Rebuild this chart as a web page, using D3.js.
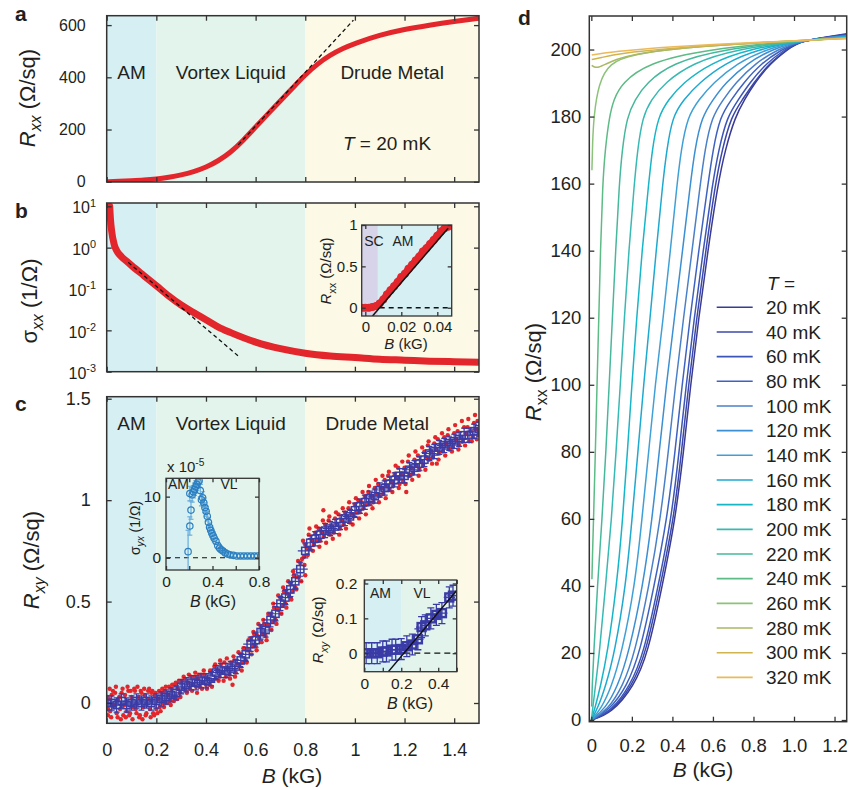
<!DOCTYPE html>
<html>
<head>
<meta charset="utf-8">
<script src="https://cdn.jsdelivr.net/npm/d3@7"></script>
<style>
  body { margin: 0; background: #fff; }
  text { font-family: "Liberation Sans", Arial, Helvetica, sans-serif; fill: #231f20; }
</style>
</head>
<body>
<script>
// ---------- data ----------
const regionEdges = [0, 0.2, 0.8, 1.5];
const regionNames = ["AM", "Vortex Liquid", "Drude Metal"];

// panel a: Rxx vs B at 20 mK
const rxxB = [0, 0.05, 0.1, 0.15, 0.2, 0.25, 0.3, 0.35, 0.4, 0.45, 0.5, 0.55, 0.6, 0.65, 0.7, 0.75, 0.8, 0.85, 0.9, 0.95, 1.0, 1.1, 1.2, 1.3, 1.4, 1.5];
const rxxR = [0, 2, 4, 6, 10, 17, 26, 38, 55, 80, 113, 158, 210, 260, 310, 360, 410, 452, 485, 510, 530, 562, 584, 600, 614, 626];
const rxxFitB = [0.53, 0.994];
const rxxFitR = [141, 619];

// panel b: sigma_xx (log)
const sigB = [0.012, 0.015, 0.02, 0.03, 0.04, 0.06, 0.08, 0.1, 0.15, 0.2, 0.25, 0.3, 0.35, 0.4, 0.45, 0.5, 0.6, 0.7, 0.8, 0.9, 1.0, 1.1, 1.2, 1.3, 1.4, 1.5];
const sigV = [10, 5, 2.5, 1.2, 0.85, 0.6, 0.47, 0.37, 0.21, 0.12, 0.068, 0.041, 0.027, 0.018, 0.012, 0.0088, 0.0052, 0.0036, 0.0028, 0.0024, 0.0022, 0.002, 0.0019, 0.0018, 0.00175, 0.0017];
const sigFitB = [0.087, 0.53];
const sigFitV = [0.44, 0.0024];
const sigTicks = [10, 1, 0.1, 0.01, 0.001];
const sigExp = ["1", "0", "-1", "-2", "-3"];

// panel b inset: low-field Rxx
const lowB = [-0.002, 0, 0.002, 0.004, 0.006, 0.008, 0.01, 0.012, 0.014, 0.016, 0.018, 0.02, 0.022, 0.024, 0.026, 0.028, 0.03, 0.032, 0.034, 0.036, 0.038, 0.04, 0.042, 0.044, 0.045, 0.046];
const lowR = [0, 0, 0, 0.01, 0.02, 0.05, 0.1, 0.16, 0.21, 0.26, 0.31, 0.37, 0.41, 0.47, 0.52, 0.57, 0.62, 0.68, 0.72, 0.77, 0.82, 0.87, 0.92, 0.96, 0.99, 0.98];
const lowFitB = [0.004, 0.046];
const lowFitR = [-0.1, 0.96];
const scEdge = 0.007;

// panel c: Rxy raw points and binned squares
const rxyB = [0, 0.02, 0.04, 0.06, 0.08, 0.1, 0.12, 0.14, 0.16, 0.18, 0.2, 0.22, 0.24, 0.26, 0.28, 0.3, 0.32, 0.34, 0.36, 0.38, 0.4, 0.42, 0.44, 0.46, 0.48, 0.5, 0.52, 0.54, 0.56, 0.58, 0.6, 0.62, 0.64, 0.66, 0.68, 0.7, 0.72, 0.74, 0.76, 0.78, 0.8, 0.82, 0.84, 0.86, 0.88, 0.9, 0.92, 0.94, 0.96, 0.98, 1.0, 1.02, 1.04, 1.06, 1.08, 1.1, 1.12, 1.14, 1.16, 1.18, 1.2, 1.22, 1.24, 1.26, 1.28, 1.3, 1.32, 1.34, 1.36, 1.38, 1.4, 1.42, 1.44, 1.46, 1.48, 1.5];
const rxyR = [0, 0, -0.01, 0.01, -0.01, 0, 0.01, 0, 0.01, 0, 0.01, 0.02, 0.03, 0.04, 0.05, 0.08, 0.09, 0.1, 0.1, 0.11, 0.11, 0.12, 0.15, 0.16, 0.16, 0.17, 0.18, 0.21, 0.24, 0.29, 0.31, 0.35, 0.36, 0.41, 0.44, 0.49, 0.52, 0.56, 0.6, 0.66, 0.75, 0.79, 0.81, 0.83, 0.85, 0.86, 0.87, 0.89, 0.91, 0.92, 0.95, 0.97, 0.99, 1.01, 1.02, 1.05, 1.06, 1.08, 1.1, 1.12, 1.12, 1.15, 1.16, 1.18, 1.2, 1.23, 1.24, 1.26, 1.27, 1.28, 1.29, 1.3, 1.32, 1.32, 1.34, 1.35];
const rxyErrB = 0.03, rxyErrR = 0.035;
const rxyRaw = [
  [0.003,0.03],[0.006,-0.03],[0.01,0.02],[0.014,-0.04],[0.02,0.04],[0.027,-0.01],[0.034,0.05],[0.04,-0.05],[0.047,0.02],
  [0.054,-0.03],[0.06,0.05],[0.067,-0.06],[0.074,0.04],[0.08,-0.04],[0.087,0.06],[0.094,-0.05],[0.1,0.03],[0.107,-0.02],
  [0.114,0.06],[0.12,-0.05],[0.127,0.03],[0.134,-0.06],[0.14,0.05],[0.147,-0.02],[0.154,0.04],[0.16,-0.05],[0.167,0.06],
  [0.174,-0.03],[0.18,0.05],[0.187,-0.05],[0.194,0.04],[0.2,-0.03],[0.207,0.02],[0.214,-0.02],[0.22,0.05],[0.227,0.0],
  [0.234,0.06],[0.24,0.0],[0.247,0.04],[0.254,0.01],[0.26,0.07],[0.267,0.03],[0.274,0.09],[0.28,0.03],[0.287,0.07],
  [0.294,0.05],[0.3,0.11],[0.307,0.07],[0.314,0.12],[0.32,0.06],[0.327,0.1],[0.334,0.07],[0.34,0.13],[0.347,0.09],
  [0.354,0.13],[0.36,0.08],[0.367,0.12],[0.374,0.08],[0.38,0.14],[0.387,0.1],[0.394,0.14],[0.4,0.09],[0.407,0.12],
  [0.414,0.09],[0.42,0.15],[0.427,0.11],[0.434,0.18],[0.44,0.12],[0.447,0.16],[0.454,0.13],[0.46,0.19],[0.467,0.15],
  [0.474,0.2],[0.48,0.13],[0.487,0.17],[0.494,0.14],[0.5,0.2],[0.507,0.09],[0.514,0.21],[0.52,0.15],[0.527,0.19],
  [0.534,0.18],[0.54,0.24],[0.547,0.2],[0.554,0.27],[0.56,0.21],[0.567,0.26],[0.574,0.26],[0.58,0.32],[0.587,0.28],
  [0.594,0.34],[0.6,0.28],[0.607,0.33],[0.614,0.32],[0.62,0.38],[0.627,0.34],[0.634,0.39],[0.64,0.33],[0.647,0.38],
  [0.654,0.38],[0.66,0.44],[0.667,0.4],[0.674,0.47],[0.68,0.41],[0.687,0.46],[0.694,0.46],[0.7,0.52],[0.707,0.48],
  [0.714,0.55],[0.72,0.49],[0.727,0.54],[0.734,0.53],[0.74,0.59],[0.747,0.55],[0.754,0.63],[0.76,0.57],[0.767,0.62],
  [0.774,0.62],[0.78,0.69],[0.787,0.71],[0.794,0.72],[0.8,0.78],[0.807,0.76],[0.814,0.83],[0.82,0.76],[0.827,0.8],
  [0.834,0.78],[0.84,0.84],[0.847,0.8],[0.854,0.86],[0.86,0.8],[0.867,0.84],[0.874,0.82],[0.88,0.88],[0.887,0.84],
  [0.894,0.9],[0.9,0.83],[0.907,0.87],[0.914,0.84],[0.92,0.91],[0.927,0.88],[0.934,0.93],[0.94,0.86],[0.947,0.9],
  [0.954,0.88],[0.96,0.94],[0.967,0.92],[0.974,0.96],[0.98,0.89],[0.987,0.93],[0.994,0.92],[1.0,0.98],[1.007,0.94],
  [1.014,1.0],[1.02,0.94],[1.027,0.99],[1.034,0.96],[1.04,1.02],[1.047,0.98],[1.054,1.04],[1.06,0.98],[1.067,1.02],
  [1.074,0.99],[1.08,1.06],[1.087,1.03],[1.094,1.08],[1.1,1.02],[1.107,1.06],[1.114,1.03],[1.12,1.1],[1.127,1.07],
  [1.134,1.12],[1.14,1.05],[1.147,1.09],[1.154,1.07],[1.16,1.13],[1.167,1.11],[1.174,1.16],[1.18,1.08],[1.187,1.13],
  [1.194,1.09],[1.2,1.16],[1.207,1.04],[1.214,1.19],[1.22,1.12],[1.227,1.16],[1.234,1.13],[1.24,1.2],[1.247,1.17],
  [1.254,1.22],[1.26,1.15],[1.267,1.19],[1.274,1.17],[1.28,1.24],[1.287,1.21],[1.294,1.27],[1.3,1.2],[1.307,1.24],
  [1.314,1.21],[1.32,1.28],[1.327,1.25],[1.334,1.3],[1.34,1.23],[1.347,1.27],[1.354,1.24],[1.36,1.31],[1.367,1.28],
  [1.374,1.32],[1.38,1.25],[1.387,1.29],[1.394,1.26],[1.4,1.33],[1.407,1.3],[1.414,1.34],[1.42,1.27],[1.427,1.31],
  [1.434,1.29],[1.44,1.36],[1.447,1.33],[1.454,1.36],[1.46,1.29],[1.467,1.34],[1.474,1.31],[1.48,1.38],[1.487,1.35],
  [1.494,1.39],[1.497,1.32],
  [0.005,-0.06],[0.012,0.07],[0.018,-0.07],[0.025,0.06],[0.031,-0.02],[0.037,0.08],[0.044,-0.07],[0.051,0.03],[0.057,-0.08],
  [0.064,0.07],[0.071,-0.01],[0.077,-0.07],[0.084,0.08],[0.091,-0.06],[0.097,0.06],[0.104,-0.08],[0.111,0.07],[0.117,-0.03],
  [0.124,0.08],[0.131,-0.07],[0.137,0.06],[0.144,-0.08],[0.151,0.07],[0.157,-0.06],[0.164,0.02],[0.171,0.07],[0.177,-0.07],
  [0.184,0.06],[0.191,-0.06],[0.197,0.05],[0.204,-0.05],[0.211,0.06],[0.217,-0.04],[0.224,0.07],[0.231,-0.02],[0.238,0.08],
  [0.244,0.0],[0.251,0.08],[0.258,-0.01],[0.264,0.09],[0.271,0.01],[0.278,0.1],[0.284,0.02],[0.291,0.11],[0.297,0.03],
  [0.31,0.13],[0.323,0.05],[0.331,0.14],[0.344,0.06],[0.357,0.15],[0.364,0.05],[0.371,0.14],[0.384,0.07],[0.391,0.16],
  [0.404,0.07],[0.417,0.16],[0.424,0.08],[0.437,0.19],[0.451,0.11],[0.457,0.21],[0.471,0.11],[0.484,0.22],[0.497,0.12],
  [0.511,0.23],[0.517,0.13],[0.531,0.25],[0.544,0.16],[0.551,0.27],[0.564,0.2],[0.571,0.31],[0.584,0.24],[0.591,0.35],
  [0.604,0.26],[0.611,0.39],[0.624,0.3],[0.631,0.41],[0.644,0.31],[0.651,0.44],[0.664,0.36],[0.671,0.49],[0.684,0.39],
  [0.691,0.53],[0.704,0.44],[0.711,0.57],[0.724,0.47],[0.731,0.6],[0.744,0.51],[0.751,0.65],[0.764,0.56],[0.771,0.7],
  [0.784,0.6],[0.791,0.8],[0.797,0.68],[0.81,0.73],[0.817,0.86],[0.831,0.75],[0.844,0.87],[0.857,0.77],[0.871,0.9],
  [0.884,0.79],[0.897,0.92],[0.911,0.81],[0.924,0.94],[0.937,0.83],[0.951,0.96],[0.964,0.86],[0.977,0.99],[0.991,0.88],
  [1.004,1.01],[1.017,0.91],[1.031,1.04],[1.044,0.93],[1.057,1.07],[1.071,0.96],[1.084,1.1],[1.097,0.99],[1.111,1.12],
  [1.124,1.01],[1.137,1.14],[1.151,1.04],[1.164,1.17],[1.177,1.06],[1.191,1.19],[1.204,1.08],[1.217,1.22],[1.231,1.1],
  [1.244,1.24],[1.257,1.12],[1.271,1.26],[1.284,1.15],[1.297,1.29],[1.311,1.18],[1.324,1.31],[1.337,1.2],[1.351,1.33],
  [1.364,1.22],[1.377,1.35],[1.391,1.24],[1.404,1.37],[1.417,1.25],[1.431,1.39],[1.444,1.27],[1.457,1.4],[1.471,1.29],
  [1.484,1.42],[1.491,1.3],[0.8,0.63],[1.33,1.18],[0.873,0.95]
];

// panel c inset 1: sigma_yx (x 1e-5)
const sxyB = [0.19, 0.205, 0.215, 0.205, 0.225, 0.235, 0.245, 0.255, 0.265, 0.275, 0.285, 0.295, 0.305, 0.315, 0.325, 0.335, 0.345, 0.355, 0.365, 0.375, 0.385, 0.395, 0.405, 0.415, 0.43, 0.445, 0.46, 0.475, 0.49, 0.51, 0.53, 0.55, 0.58, 0.61, 0.64, 0.67, 0.7, 0.73, 0.76, 0.79];
const sxyV = [1.0, 5.2, 7.8, 10.5, 10.3, 10.8, 11.2, 11.6, 12.0, 12.4, 12.6, 11.0, 9.5, 9.8, 9.0, 8.2, 7.6, 6.8, 5.8, 5.0, 4.5, 4.0, 3.6, 3.2, 2.7, 2.0, 1.6, 1.3, 1.1, 0.8, 0.6, 0.5, 0.4, 0.3, 0.3, 0.3, 0.3, 0.3, 0.3, 0.3];
const sxyE = [3.5, 1.5, 1.5, 1.2, 1.2, 1, 1, 1, 1, 1, 1, 1, 1, 1, 0.8, 0.8, 0.8, 0.8, 0.8, 0.7, 0.7, 0.6, 0.6, 0.6, 0.5, 0.5, 0.5, 0.4, 0.4, 0.4, 0.3, 0.3, 0.3, 0.3, 0.3, 0.3, 0.3, 0.3, 0.3, 0.3];

// panel c inset 2: low-field Rxy
const lowXyB = [0.01, 0.04, 0.07, 0.1, 0.12, 0.15, 0.17, 0.2, 0.23, 0.26, 0.29, 0.31, 0.33, 0.36, 0.39, 0.42, 0.46, 0.48];
const lowXyR = [0, 0, 0, 0.005, 0.005, 0.01, 0.01, 0.012, 0.02, 0.025, 0.04, 0.075, 0.08, 0.1, 0.11, 0.115, 0.16, 0.165];
const lowXyFitB = [0.13, 0.5];
const lowXyFitR = [-0.053, 0.18];

// panel d: Rxx(B) at each temperature
const tempsD = [20, 40, 60, 80, 100, 120, 140, 160, 180, 200, 220, 240, 260, 280, 300, 320];
const colorsD = ["#393b96", "#3c48a8", "#3b55b8", "#3f62bf", "#4a80c8", "#3b8fd2", "#40a0d6", "#1ea9d0", "#17b5c8", "#38b9b4", "#47b89b", "#5dbb85", "#8dc27b", "#a9b862", "#d1b44f", "#ebb95b"];
const rxxT = [
  [[0,0],[0.1,2],[0.21,10],[0.28,20],[0.35,40],[0.415,60],[0.455,80],[0.49,100],[0.53,120],[0.575,140],[0.625,160],[0.66,170],[0.71,180],[0.755,185],[0.805,190],[0.885,196],[0.97,200],[1.03,202.7],[1.26,204.7]],
  [[0,0],[0.1,2.3],[0.2,10],[0.27,20],[0.34,40],[0.407,60],[0.445,80],[0.48,100],[0.52,120],[0.565,140],[0.612,160],[0.645,170],[0.69,180],[0.745,185],[0.8,190],[0.88,196],[0.965,200],[1.03,202.7],[1.26,204.5]],
  [[0,0],[0.1,2.7],[0.19,10],[0.26,20],[0.33,40],[0.395,60],[0.433,80],[0.468,100],[0.508,120],[0.552,140],[0.598,160],[0.628,170],[0.67,180],[0.725,185],[0.78,190],[0.865,196],[0.955,200],[1.03,202.7],[1.26,204.4]],
  [[0,0],[0.09,3],[0.175,10],[0.24,20],[0.31,40],[0.374,60],[0.413,80],[0.448,100],[0.487,120],[0.53,140],[0.576,160],[0.6,170],[0.635,180],[0.69,185],[0.75,190],[0.84,196],[0.94,200],[1.03,202.7],[1.26,204.2]],
  [[0,0],[0.08,3],[0.155,10],[0.215,20],[0.285,40],[0.341,60],[0.38,80],[0.415,100],[0.455,120],[0.497,140],[0.538,160],[0.56,170],[0.595,180],[0.65,185],[0.71,190],[0.81,196],[0.92,200],[1.03,202.7],[1.26,204.1]],
  [[0,0],[0.07,3.5],[0.13,10],[0.185,20],[0.255,40],[0.3,60],[0.335,80],[0.37,100],[0.41,120],[0.45,140],[0.489,160],[0.51,170],[0.545,180],[0.6,185],[0.66,190],[0.77,196],[0.89,200],[1.03,202.7],[1.26,204]],
  [[0,0],[0.05,3.5],[0.1,10],[0.15,20],[0.215,40],[0.25,60],[0.283,80],[0.315,100],[0.355,120],[0.39,140],[0.423,160],[0.443,170],[0.475,180],[0.53,185],[0.6,190],[0.72,196],[0.86,200],[1.03,202.7],[1.26,203.9]],
  [[0,0],[0.035,4],[0.07,10],[0.115,20],[0.17,40],[0.201,60],[0.23,80],[0.258,100],[0.29,120],[0.32,140],[0.352,160],[0.372,170],[0.4,180],[0.455,185],[0.53,190],[0.66,196],[0.82,200],[1.03,202.7],[1.26,203.8]],
  [[0,0],[0.02,4],[0.045,10],[0.08,20],[0.125,40],[0.155,60],[0.178,80],[0.2,100],[0.224,120],[0.25,140],[0.283,160],[0.3,170],[0.329,180],[0.38,185],[0.45,190],[0.59,196],[0.77,200],[1.03,202.7],[1.26,203.7]],
  [[0,0],[0.008,4],[0.02,10],[0.04,20],[0.07,40],[0.1,60],[0.122,80],[0.143,100],[0.163,120],[0.185,140],[0.212,160],[0.228,170],[0.253,180],[0.295,185],[0.36,190],[0.5,196],[0.71,200],[1.03,202.7],[1.26,203.6]],
  [[0.002,4],[0.004,10],[0.012,20],[0.03,40],[0.053,60],[0.072,80],[0.088,100],[0.104,120],[0.12,140],[0.138,160],[0.152,170],[0.176,180],[0.215,185],[0.27,190],[0.4,196],[0.64,200],[1.03,202.7],[1.26,203.5]],
  [[0.003,42],[0.006,50],[0.011,60],[0.02,80],[0.028,100],[0.037,120],[0.045,140],[0.056,160],[0.068,170],[0.089,180],[0.11,185],[0.15,190],[0.28,196],[0.56,200],[1.03,202.7],[1.26,203.5]],
  [[0.003,164],[0.006,172],[0.012,180],[0.036,190],[0.09,196],[0.2,198.5],[0.45,200.5],[0.7,201.6],[1.03,202.7],[1.26,203.4]],
  [[0.002,195.3],[0.015,194.7],[0.035,194.6],[0.07,195.6],[0.12,197],[0.2,198.5],[0.4,200.2],[0.7,201.6],[1.03,202.7],[1.26,203.4]],
  [[0.002,197],[0.05,197.6],[0.1,198.3],[0.2,199.3],[0.35,200.1],[0.6,201.3],[1.03,202.7],[1.26,203.3]],
  [[0.002,198.4],[0.1,199.3],[0.25,200.1],[0.4,200.8],[0.6,201.5],[0.8,202.1],[1.03,202.7],[1.26,203.3]]
];

// ---------- style ----------
const RED = "#e3262b", SQ = "#3a3ba6", CIRC = "#2c7fc0", CIRC_ERR = "#6aaede";
const regionColors = ["#d5eff3", "#e2f4eb", "#fcf9e6"];
const SC_COLOR = "#d7d4ea";
const AXIS = "#333";

const svg = d3.select("body").append("svg").attr("width", 850).attr("height", 790);
let clipId = 0;

// text with italic / sub / superscript runs: parts = [[text, flags]]
function rich(g, x, y, parts, o = {}) {
  const fs = o.fs || 16;
  const t = g.append("text").attr("font-size", fs).attr("text-anchor", o.anchor || "middle");
  if (o.rot) t.attr("transform", `translate(${x},${y}) rotate(-90)`);
  else t.attr("x", x).attr("y", y);
  if (o.dy) t.attr("dy", o.dy);
  if (o.bold) t.attr("font-weight", "bold");
  let shift = 0;
  parts.forEach(p => {
    const f = p[1] || "";
    const s = t.append("tspan").text(p[0]);
    if (f.includes("i")) s.attr("font-style", "italic");
    let target = 0;
    if (f.includes("b")) { s.attr("font-size", fs * 0.72); target = fs * 0.3; }
    if (f.includes("p")) { s.attr("font-size", fs * 0.68); target = -fs * 0.42; }
    if (target !== shift) { s.attr("dy", target - shift); shift = target; }
  });
  return t;
}

function frame(g, x, y, o) {
  const [x0, x1] = x.range(), [y0, y1] = y.range();
  const ts = o.ts || 5;
  g.append("g").attr("transform", `translate(0,${y0})`)
    .call(d3.axisBottom(x).tickValues(o.xt).tickSize(-ts).tickSizeOuter(0).tickPadding(o.xpad || 8).tickFormat(o.xf || (() => "")));
  g.append("g").attr("transform", `translate(0,${y1})`)
    .call(d3.axisTop(x).tickValues(o.xt).tickSize(-ts).tickSizeOuter(0).tickFormat(() => ""));
  g.append("g").attr("transform", `translate(${x0},0)`)
    .call(d3.axisLeft(y).tickValues(o.yt).tickSize(-ts).tickSizeOuter(0).tickPadding(o.ypad || 8).tickFormat(o.yf || (() => "")));
  g.append("g").attr("transform", `translate(${x1},0)`)
    .call(d3.axisRight(y).tickValues(o.yt).tickSize(-ts).tickSizeOuter(0).tickFormat(() => ""));
  g.selectAll(".domain").remove();
  g.selectAll(".tick line").attr("stroke", AXIS).attr("stroke-width", 1.3);
  g.selectAll(".tick text").attr("font-size", o.fs).attr("fill", "#231f20")
    .attr("font-family", '"Liberation Sans", Arial, sans-serif');
  g.append("rect").attr("x", x0).attr("y", y1).attr("width", x1 - x0).attr("height", y0 - y1)
    .attr("fill", "none").attr("stroke", AXIS).attr("stroke-width", o.sw || 1.5);
}

function clipFor(g, x, y) {
  const id = "clip" + (clipId++);
  const [x0, x1] = x.range(), [y0, y1] = y.range();
  g.append("clipPath").attr("id", id).append("rect")
    .attr("x", x0).attr("y", y1).attr("width", x1 - x0).attr("height", y0 - y1);
  return g.append("g").attr("clip-path", `url(#${id})`);
}

function regions(g, x, y, edges, colors) {
  const [y0, y1] = y.range();
  edges.slice(0, -1).forEach((e, i) => {
    g.append("rect").attr("x", x(e)).attr("y", y1).attr("width", x(edges[i + 1]) - x(e))
      .attr("height", y0 - y1).attr("fill", colors[i]);
  });
}

const fmtDot = d => String(+d.toFixed(2));

// ---------- panel a ----------
{
  const g = svg.append("g");
  const x = d3.scaleLinear().domain([0, 1.5]).range([106.7, 479]);
  const y = d3.scaleLinear().domain([-1, 636]).range([182, 15.7]);
  regions(g, x, y, regionEdges, regionColors);
  const c = clipFor(g, x, y);
  c.append("path").datum(rxxB.map((b, i) => [b, rxxR[i]]))
    .attr("d", d3.line().x(d => x(d[0])).y(d => y(d[1])).curve(d3.curveBasis))
    .attr("fill", "none").attr("stroke", RED).attr("stroke-width", 5).attr("stroke-linecap", "round");
  c.append("line").attr("x1", x(rxxFitB[0])).attr("y1", y(rxxFitR[0])).attr("x2", x(rxxFitB[1])).attr("y2", y(rxxFitR[1]))
    .attr("stroke", "#111").attr("stroke-width", 1.3).attr("stroke-dasharray", "4,3");
  frame(g, x, y, { xt: d3.range(0, 1.41, 0.2), yt: [0, 200, 400, 600], yf: d => d, ypad: 21, fs: 16 });
  const mids = [0.1, 0.5, 1.15];
  regionNames.forEach((n, i) => rich(g, x(mids[i]), 79, [[n]], { fs: 19 }));
  rich(g, 387, 150, [["T", "i"], [" = 20 mK"]], { fs: 19 });
  rich(g, 27, 98, [["R", "i"], ["xx", "ib"], [" (Ω/sq)"]], { fs: 22, rot: true, dy: "0.35em" });
  rich(g, 15, 21, [["a"]], { fs: 21, bold: true, anchor: "start" });
}

// ---------- panel b ----------
{
  const g = svg.append("g");
  const x = d3.scaleLinear().domain([0, 1.5]).range([106.7, 479]);
  const y = d3.scaleLog().domain([1e-3, 12]).range([371.7, 203]);
  regions(g, x, y, regionEdges, regionColors);
  const c = clipFor(g, x, y);
  c.append("path").datum(sigB.map((b, i) => [b, sigV[i]]))
    .attr("d", d3.line().x(d => x(d[0])).y(d => y(d[1])).curve(d3.curveMonotoneX))
    .attr("fill", "none").attr("stroke", RED).attr("stroke-width", 7).attr("stroke-linecap", "round");
  c.append("line").attr("x1", x(sigFitB[0])).attr("y1", y(sigFitV[0])).attr("x2", x(sigFitB[1])).attr("y2", y(sigFitV[1]))
    .attr("stroke", "#111").attr("stroke-width", 1.3).attr("stroke-dasharray", "4,3");
  frame(g, x, y, { xt: d3.range(0, 1.41, 0.2), yt: sigTicks, fs: 16 });
  sigTicks.forEach((v, i) => rich(g, 96, y(v), [["10"], [sigExp[i], "p"]], { fs: 16, anchor: "end", dy: "0.45em" }));
  rich(g, 29, 301, [["σ"], ["xx", "ib"], [" (1/Ω)"]], { fs: 22, rot: true, dy: "0.35em" });
  rich(g, 15, 218, [["b"]], { fs: 21, bold: true, anchor: "start" });

  // inset
  const xi = d3.scaleLinear().domain([-0.002, 0.048]).range([361.7, 451.7]);
  const yi = d3.scaleLinear().domain([-0.1, 1]).range([316, 225]);
  const gi = g.append("g");
  regions(gi, xi, yi, [-0.002, scEdge, 0.048], [SC_COLOR, regionColors[0]]);
  const ci = clipFor(gi, xi, yi);
  ci.append("line").attr("x1", xi(-0.002)).attr("x2", xi(0.048)).attr("y1", yi(0)).attr("y2", yi(0))
    .attr("stroke", "#111").attr("stroke-width", 1.3).attr("stroke-dasharray", "5,4");
  ci.append("path").datum(lowB.map((b, i) => [b, lowR[i]]))
    .attr("d", d3.line().x(d => xi(d[0])).y(d => yi(d[1])))
    .attr("fill", "none").attr("stroke", RED).attr("stroke-width", 7).attr("stroke-linecap", "round").attr("stroke-linejoin", "round");
  ci.selectAll("circle").data(lowB).enter().append("circle")
    .attr("cx", d => xi(d)).attr("cy", (d, i) => yi(lowR[i])).attr("r", 4).attr("fill", RED);
  ci.append("line").attr("x1", xi(lowFitB[0])).attr("y1", yi(lowFitR[0])).attr("x2", xi(lowFitB[1])).attr("y2", yi(lowFitR[1]))
    .attr("stroke", "#111").attr("stroke-width", 1.5);
  frame(gi, xi, yi, { xt: [0, 0.02, 0.04], yt: [0, 0.5, 1], xf: d => d, yf: d => d, xpad: 5, ypad: 4, fs: 15, ts: 4, sw: 1.3 });
  rich(gi, 374, 246, [["SC"]], { fs: 14 });
  rich(gi, 403, 246, [["AM"]], { fs: 14 });
  rich(gi, 406, 349, [["B", "i"], [" (kG)"]], { fs: 15 });
  rich(gi, 326, 271, [["R", "i"], ["xx", "b"], ["  (Ω/sq)"]], { fs: 15, rot: true, dy: "0.35em" });
}

// ---------- panel c ----------
{
  const g = svg.append("g");
  const x = d3.scaleLinear().domain([0, 1.5]).range([106.7, 479]);
  const y = d3.scaleLinear().domain([-0.1, 1.51]).range([723.3, 396.7]);
  regions(g, x, y, regionEdges, regionColors);
  const c = clipFor(g, x, y);
  c.selectAll("circle.raw").data(rxyRaw).enter().append("circle").attr("class", "raw")
    .attr("cx", d => x(d[0])).attr("cy", d => y(d[1])).attr("r", 2.2).attr("fill", RED);
  const sq = c.append("g").attr("stroke", SQ).attr("fill", "none").attr("stroke-width", 1.2);
  rxyB.forEach((b, i) => {
    const cx = x(b), cy = y(rxyR[i]);
    const yt = y(rxyR[i] + rxyErrR), yb = y(rxyR[i] - rxyErrR);
    const xl = x(b - rxyErrB), xr = x(b + rxyErrB);
    sq.append("line").attr("x1", cx).attr("x2", cx).attr("y1", yt).attr("y2", yb);
    sq.append("line").attr("x1", xl).attr("x2", xr).attr("y1", cy).attr("y2", cy);
    sq.append("line").attr("x1", cx - 3).attr("x2", cx + 3).attr("y1", yt).attr("y2", yt);
    sq.append("line").attr("x1", cx - 3).attr("x2", cx + 3).attr("y1", yb).attr("y2", yb);
    sq.append("rect").attr("x", cx - 3.6).attr("y", cy - 3.6).attr("width", 7.2).attr("height", 7.2).attr("stroke-width", 1.5);
  });
  frame(g, x, y, { xt: d3.range(0, 1.41, 0.2), yt: [0, 0.5, 1, 1.5], xf: fmtDot, yf: fmtDot, xpad: 20, ypad: 16, fs: 18 });
  const mids = [0.1, 0.5, 1.09];
  regionNames.forEach((n, i) => rich(g, x(mids[i]), 430, [[n]], { fs: 19 }));
  rich(g, 292, 783, [["B", "i"], [" (kG)"]], { fs: 21 });
  rich(g, 31, 560, [["R", "i"], ["xy", "ib"], [" (Ω/sq)"]], { fs: 22, rot: true, dy: "0.35em" });
  rich(g, 15, 411, [["c"]], { fs: 21, bold: true, anchor: "start" });

  // inset 1: sigma_yx
  const x1 = d3.scaleLinear().domain([0, 0.8]).range([166, 259]);
  const y1 = d3.scaleLinear().domain([-2, 13]).range([570, 478.3]);
  const g1 = g.append("g");
  regions(g1, x1, y1, [0, 0.2, 0.8], [regionColors[0], regionColors[1]]);
  const c1 = clipFor(g1, x1, y1);
  c1.append("line").attr("x1", x1(0)).attr("x2", x1(0.8)).attr("y1", y1(0)).attr("y2", y1(0))
    .attr("stroke", "#111").attr("stroke-width", 1.2).attr("stroke-dasharray", "5,4");
  const eb = c1.append("g").attr("stroke", CIRC_ERR).attr("stroke-width", 1.2);
  sxyB.forEach((b, i) => {
    const cx = x1(b);
    eb.append("line").attr("x1", cx).attr("x2", cx).attr("y1", y1(sxyV[i] + sxyE[i])).attr("y2", y1(sxyV[i] - sxyE[i]));
    eb.append("line").attr("x1", cx - 2.5).attr("x2", cx + 2.5).attr("y1", y1(sxyV[i] + sxyE[i])).attr("y2", y1(sxyV[i] + sxyE[i]));
    eb.append("line").attr("x1", cx - 2.5).attr("x2", cx + 2.5).attr("y1", y1(sxyV[i] - sxyE[i])).attr("y2", y1(sxyV[i] - sxyE[i]));
  });
  c1.selectAll("circle").data(sxyB).enter().append("circle")
    .attr("cx", d => x1(d)).attr("cy", (d, i) => y1(sxyV[i])).attr("r", 3.2)
    .attr("fill", "none").attr("stroke", CIRC).attr("stroke-width", 1.2);
  const sxyXLabels = [0, 0.4, 0.8];
  frame(g1, x1, y1, { xt: [0, 0.2, 0.4, 0.6, 0.8], yt: [0, 10], xf: d => sxyXLabels.includes(d) ? d : "", yf: d => d,
    xpad: 6, ypad: 5, fs: 15.5, ts: 4, sw: 1.3 });
  rich(g1, 168, 489, [["AM"]], { fs: 14, anchor: "start" });
  rich(g1, 229, 489, [["VL"]], { fs: 14 });
  rich(g1, 167, 472, [["x 10"], ["-5", "p"]], { fs: 15, anchor: "start" });
  rich(g1, 213, 607, [["B", "i"], [" (kG)"]], { fs: 16 });
  rich(g1, 135, 528, [["σ"], ["yx", "ib"], [" (1/Ω)"]], { fs: 14, rot: true, dy: "0.35em" });

  // inset 2: low-field Rxy
  const x2 = d3.scaleLinear().domain([0, 0.5]).range([364.3, 456.7]);
  const y2 = d3.scaleLinear().domain([-0.053, 0.21]).range([671.7, 580]);
  const g2 = g.append("g");
  regions(g2, x2, y2, [0, 0.2, 0.5], [regionColors[0], regionColors[1]]);
  const c2 = clipFor(g2, x2, y2);
  c2.append("line").attr("x1", x2(0)).attr("x2", x2(0.5)).attr("y1", y2(0)).attr("y2", y2(0))
    .attr("stroke", "#111").attr("stroke-width", 1.3).attr("stroke-dasharray", "6,4");
  const sq2 = c2.append("g").attr("stroke", SQ).attr("fill", "none").attr("stroke-width", 1.3);
  lowXyB.forEach((b, i) => {
    const cx = x2(b), cy = y2(lowXyR[i]);
    const yt = y2(lowXyR[i] + 0.03), yb = y2(lowXyR[i] - 0.03);
    sq2.append("line").attr("x1", cx).attr("x2", cx).attr("y1", yt).attr("y2", yb);
    sq2.append("line").attr("x1", x2(b - 0.03)).attr("x2", x2(b + 0.03)).attr("y1", cy).attr("y2", cy);
    sq2.append("line").attr("x1", cx - 3.5).attr("x2", cx + 3.5).attr("y1", yt).attr("y2", yt);
    sq2.append("line").attr("x1", cx - 3.5).attr("x2", cx + 3.5).attr("y1", yb).attr("y2", yb);
    sq2.append("rect").attr("x", cx - 4).attr("y", cy - 4).attr("width", 8).attr("height", 8).attr("stroke-width", 2.4);
  });
  c2.append("line").attr("x1", x2(lowXyFitB[0])).attr("y1", y2(lowXyFitR[0])).attr("x2", x2(lowXyFitB[1])).attr("y2", y2(lowXyFitR[1]))
    .attr("stroke", "#111").attr("stroke-width", 1.4);
  const lowXyXLabels = [0, 0.2, 0.4];
  frame(g2, x2, y2, { xt: [0, 0.1, 0.2, 0.3, 0.4, 0.5], yt: [0, 0.1, 0.2], xf: d => lowXyXLabels.includes(d) ? d : "", yf: d => d,
    xpad: 6, ypad: 7, fs: 15.5, ts: 4, sw: 1.3 });
  rich(g2, 370, 598, [["AM"]], { fs: 14, anchor: "start" });
  rich(g2, 422, 598, [["VL"]], { fs: 14 });
  rich(g2, 410, 709, [["B", "i"], [" (kG)"]], { fs: 16 });
  rich(g2, 318, 630, [["R", "i"], ["xy", "ib"], [" (Ω/sq)"]], { fs: 15, rot: true, dy: "0.35em" });
}

// ---------- panel d ----------
{
  const g = svg.append("g");
  const x = d3.scaleLinear().domain([-0.01, 1.26]).range([589.3, 846.7]);
  const y = d3.scaleLinear().domain([-0.5, 210]).range([721.7, 16]);
  const c = clipFor(g, x, y);
  const line = d3.line().x(d => x(d[0])).y(d => y(d[1])).curve(d3.curveBasis);
  rxxT.forEach((pts, i) => {
    c.append("path").datum(pts).attr("d", line).attr("fill", "none")
      .attr("stroke", colorsD[i]).attr("stroke-width", 1.5);
  });
  frame(g, x, y, { xt: [0, 0.2, 0.4, 0.6, 0.8, 1.0, 1.2], yt: d3.range(0, 201, 20),
    xf: d => d === 0 ? "0" : d3.format(".1f")(d), yf: d => d, xpad: 17, ypad: 8, fs: 18.5 });
  // legend
  const lg = g.append("g");
  rich(lg, 767, 283, [["T", "i"], [" ="]], { fs: 19, anchor: "start", dy: "0.35em" });
  tempsD.forEach((t, i) => {
    const ly = 307.3 + i * 24.67;
    lg.append("line").attr("x1", 716.7).attr("x2", 752.7).attr("y1", ly).attr("y2", ly)
      .attr("stroke", colorsD[i]).attr("stroke-width", 1.6);
    rich(lg, 766, ly, [[t + " mK"]], { fs: 19, anchor: "start", dy: "0.35em" });
  });
  rich(g, 703, 777, [["B", "i"], [" (kG)"]], { fs: 21 });
  rich(g, 533, 372, [["R", "i"], ["xx", "b"], [" (Ω/sq)"]], { fs: 22, rot: true, dy: "0.35em" });
  rich(g, 518, 25, [["d"]], { fs: 21, bold: true, anchor: "start" });
}
</script>
</body>
</html>
